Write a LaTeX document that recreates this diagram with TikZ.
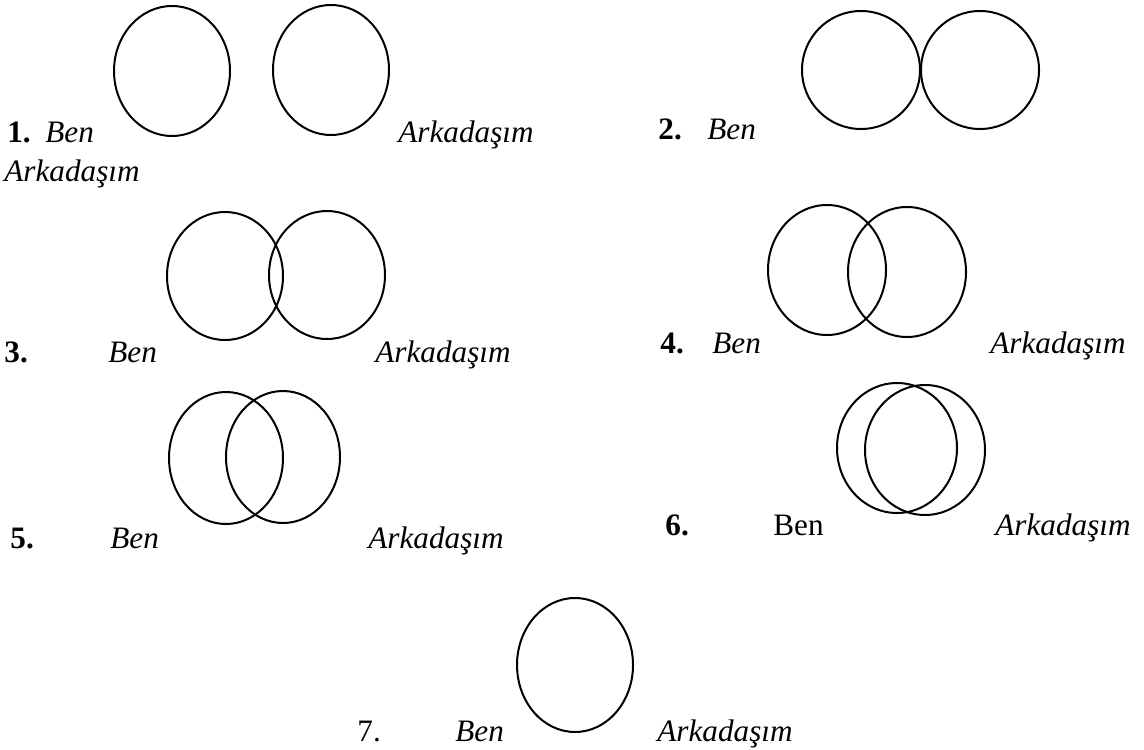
\documentclass[tikz,border=0pt]{standalone}
\usepackage{fontspec}
\setmainfont{Liberation Serif}

\begin{document}
\begin{tikzpicture}[
    x=0.5pt, y=-0.5pt, % one unit is one pixel of the scan
    ring/.style={line width=1pt, black}, % style for the circles
    lab/.style={font=\fontsize{15.6}{18}\selectfont\itshape, anchor=base west, inner sep=0pt}, % names
    uplab/.style={font=\fontsize{15.6}{18}\selectfont, anchor=base west, inner sep=0pt}, % upright name
    num/.style={font=\fontsize{15.6}{18}\selectfont\bfseries, anchor=base west, inner sep=0pt} % item numbers
]
    \useasboundingbox (0,0) rectangle (1144,749);

    % Radii of the circles
    \def\rx{58}
    \def\ry{65}

    % 1. apart
    \draw[ring] (172,71) ellipse [x radius=\rx, y radius=\ry];
    \draw[ring] (331,70) ellipse [x radius=\rx, y radius=\ry];
    \node[num] (n1) at (7,142) {1.};
    \node[lab] (ben1) at (45,142) {Ben};
    \node[lab] (ark1) at (398,142) {Arkadaşım};
    \node[lab] (ark1b) at (4,181) {Arkadaşım};

    % 2. touching
    \draw[ring] (861,70) circle [radius=59];
    \draw[ring] (980,70) circle [radius=59];
    \node[num] (n2) at (658,140) {2.};
    \node[lab] (ben2) at (707,140) {Ben};

    % 3. small overlap
    \draw[ring] (225,276) ellipse [x radius=\rx, y radius=64];
    \draw[ring] (327,275) ellipse [x radius=\rx, y radius=64];
    \node[num] (n3) at (4,362) {3.};
    \node[lab] (ben3) at (108,362) {Ben};
    \node[lab] (ark3) at (375,362) {Arkadaşım};

    % 4. some overlap
    \draw[ring] (827,270) ellipse [x radius=59, y radius=\ry];
    \draw[ring] (907,272) ellipse [x radius=59, y radius=\ry];
    \node[num] (n4) at (660,353) {4.};
    \node[lab] (ben4) at (712,353) {Ben};
    \node[lab] (ark4) at (990,353) {Arkadaşım};

    % 5. half overlap
    \draw[ring] (226,458) ellipse [x radius=57, y radius=66];
    \draw[ring] (283,457) ellipse [x radius=57, y radius=66];
    \node[num] (n5) at (10,548) {5.};
    \node[lab] (ben5) at (110,548) {Ben};
    \node[lab] (ark5) at (368,548) {Arkadaşım};

    % 6. almost the same
    \draw[ring] (897,448) ellipse [x radius=60, y radius=\ry];
    \draw[ring] (925,450) ellipse [x radius=60, y radius=\ry];
    \node[num] (n6) at (665,535) {6.};
    \node[uplab] (ben6) at (773,535) {Ben};
    \node[lab] (ark6) at (995,535) {Arkadaşım};

    % 7. one circle
    \draw[ring] (575,665) ellipse [x radius=\rx, y radius=67];
    \node[uplab] (n7) at (357,741) {7.};
    \node[lab] (ben7) at (455,741) {Ben};
    \node[lab] (ark7) at (657,741) {Arkadaşım};

\end{tikzpicture}
\end{document}
